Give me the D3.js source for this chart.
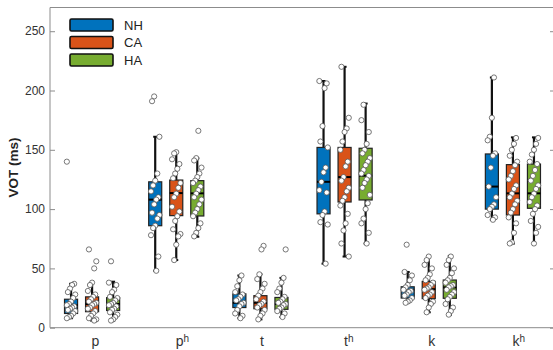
<!DOCTYPE html>
<html>
<head>
<meta charset="utf-8">
<script src="https://cdn.jsdelivr.net/npm/d3@7"></script>
<style>
  html, body { margin: 0; padding: 0; background: #fff; }
  svg { display: block; font-family: "Liberation Sans", Arial, Helvetica, sans-serif; }
</style>
</head>
<body>
<svg id="chart" width="553" height="350"></svg>
<script>
// ---- data ----
const categories = ["p", "pʰ", "t", "tʰ", "k", "kʰ"];
const seriesNames = ["NH", "CA", "HA"];
const seriesColors = ["#0072BD", "#D95319", "#77AC30"];
const yTicks = [0, 50, 100, 150, 200, 250];

// box statistics per series, one value per category
const nhQ1  = [12, 86, 17, 96, 25, 100];
const nhMed = [19, 108, 21, 123, 32, 119];
const nhQ3  = [24, 123, 28.5, 152, 34.5, 146.5];
const nhLo  = [8, 48, 8, 54, 21, 91];
const nhHi  = [37, 161, 44, 208, 47, 211];

const caQ1  = [13.5, 94.5, 16, 106, 24.5, 95];
const caMed = [20, 113.5, 21, 127, 32.5, 113.3];
const caQ3  = [26, 124.5, 27, 152, 39, 137.5];
const caLo  = [6, 57, 7, 60, 13, 71];
const caHi  = [38.5, 148.5, 45, 220, 60.5, 160.5];

const haQ1  = [14.5, 94.2, 15.5, 107.7, 24.8, 100.7];
const haMed = [20, 113.3, 20, 128.2, 34, 113.3];
const haQ3  = [25.3, 124, 25.5, 151.3, 40.2, 138];
const haLo  = [6, 76.7, 9, 71, 10.7, 71];
const haHi  = [38.8, 142.8, 42, 189, 60.5, 160.5];

// individual observations per series, per category
const nhPoints = [
  [140, 37, 36, 33, 30, 28, 25, 22, 20, 19, 18, 17, 16, 15, 14, 12, 10, 9, 8],
  [195, 191, 161, 130, 124, 120, 115, 110, 108, 104, 97, 95, 92, 86, 84, 78, 60, 48],
  [44, 40, 35, 30, 28, 26, 24, 23, 21, 20, 18, 15, 12, 10, 8],
  [208, 206, 202, 170, 157, 152, 135, 131, 123, 116, 114, 98, 95, 89, 87, 54],
  [70, 47, 44, 40, 36, 34, 32, 31, 30, 28, 27, 25, 23, 22, 21],
  [211, 177, 161, 158, 147, 145, 135, 119, 110, 104, 102, 100, 95, 93, 91]
];
const caPoints = [
  [66, 56, 50, 38, 36, 31, 28, 26, 24, 22, 21, 20, 19, 17, 16, 14, 12, 10, 8, 7, 6],
  [148, 147, 142, 138, 134, 130, 126, 122, 118, 113, 110, 102, 98, 94, 90, 83, 79, 77, 70, 57],
  [69, 66, 45, 41, 37, 33, 30, 27, 24, 22, 20, 19, 17, 15, 12, 10, 7],
  [220, 177, 168, 165, 157, 150, 140, 136, 127, 124, 118, 115, 110, 107, 103, 96, 88, 82, 71, 60],
  [60, 57, 53, 50, 45, 42, 40, 38, 36, 34, 33, 32, 30, 28, 27, 25, 22, 20, 17, 13],
  [160, 155, 150, 145, 140, 137, 132, 128, 125, 120, 117, 113, 110, 107, 104, 100, 97, 93, 88, 80, 72, 71]
];
const haPoints = [
  [56, 38, 36, 32, 30, 26, 25, 23, 21, 20, 19, 18, 16, 15, 13, 11, 9, 7, 6],
  [166, 143, 141, 135, 130, 127, 124, 122, 119, 116, 113, 110, 108, 104, 100, 97, 94, 88, 84, 80, 77],
  [66, 42, 38, 33, 30, 26, 24, 22, 21, 20, 19, 17, 16, 14, 12, 9],
  [188, 175, 165, 155, 150, 147, 143, 140, 137, 133, 130, 128, 125, 122, 118, 112, 105, 100, 92, 88, 80, 71],
  [60, 57, 53, 50, 46, 42, 40, 38, 36, 35, 34, 32, 30, 28, 26, 24, 20, 17, 14, 11],
  [160, 155, 150, 146, 140, 138, 133, 128, 124, 120, 117, 113, 110, 106, 103, 100, 96, 90, 85, 80, 71]
];

(function () {
// ---- build series table ----
const series = [
  { name: seriesNames[0], color: seriesColors[0], q1: nhQ1, med: nhMed, q3: nhQ3, lo: nhLo, hi: nhHi, pts: nhPoints },
  { name: seriesNames[1], color: seriesColors[1], q1: caQ1, med: caMed, q3: caQ3, lo: caLo, hi: caHi, pts: caPoints },
  { name: seriesNames[2], color: seriesColors[2], q1: haQ1, med: haMed, q3: haQ3, lo: haLo, hi: haHi, pts: haPoints }
];

// ---- layout ----
const svg = d3.select("#chart");
const pL = 50, pR = 555, pT = 7.5, pB = 327.7;

const x = d3.scaleLinear().domain([0.5, categories.length + 0.5]).range([pL, pR]);
const y = d3.scaleLinear().domain([0, 270]).range([pB, pT]);

const offsetUnits = [-0.25, 0, 0.25];
const boxW = x(0.155) - x(0);
const axisColor = "#8c8c8c";
const textColor = "#333333";

// frame lines
const frame = svg.append("g").attr("stroke", axisColor).attr("stroke-width", 1).attr("fill", "none");
frame.append("line").attr("x1", pL).attr("x2", pL).attr("y1", pT).attr("y2", pB);
frame.append("line").attr("x1", pL).attr("x2", pR).attr("y1", pB).attr("y2", pB);
frame.append("line").attr("x1", pL).attr("x2", pR).attr("y1", pT).attr("y2", pT);
frame.append("line").attr("x1", pR).attr("x2", pR).attr("y1", pT).attr("y2", pB);

// y axis (inward ticks) via d3 axis
const yAxis = svg.append("g")
  .attr("transform", `translate(${pL},0)`)
  .call(d3.axisRight(y).tickValues(yTicks).tickSize(5).tickFormat(""));
yAxis.select(".domain").remove();
yAxis.selectAll(".tick line").attr("stroke", axisColor);

const yAxisR = svg.append("g")
  .attr("transform", `translate(${pR},0)`)
  .call(d3.axisLeft(y).tickValues(yTicks).tickSize(5).tickFormat(""));
yAxisR.select(".domain").remove();
yAxisR.selectAll(".tick line").attr("stroke", axisColor);

// y tick labels
svg.append("g").selectAll("text").data(yTicks).join("text")
  .attr("x", pL - 5)
  .attr("y", d => y(d))
  .attr("dy", "0.35em")
  .attr("text-anchor", "end")
  .attr("font-size", 12)
  .attr("fill", textColor)
  .text(d => d);

// y label
svg.append("text")
  .attr("transform", `translate(18,${(pT + pB) / 2}) rotate(-90)`)
  .attr("text-anchor", "middle")
  .attr("font-size", 13.5)
  .attr("font-weight", "bold")
  .attr("fill", "#222")
  .text("VOT (ms)");

// x category labels (left-anchored at category centre)
const xl = svg.append("g").selectAll("text").data(categories).join("text")
  .attr("x", (d, i) => x(i + 1) - 0.5)
  .attr("y", 345.5)
  .attr("text-anchor", "start")
  .attr("font-size", 14)
  .attr("fill", textColor);
xl.each(function(d) {
  const t = d3.select(this);
  const aspirated = d.endsWith("ʰ");
  t.append("tspan").text(aspirated ? d.slice(0, -1) : d);
  if (aspirated) {
    t.append("tspan").attr("font-size", 10).attr("dy", -4).text("h");
  }
});

// ---- boxes ----
const plot = svg.append("g");
series.forEach((s, si) => {
  const g = plot.append("g");
  categories.forEach((c, ci) => {
    const cx = x(ci + 1 + offsetUnits[si]);
    g.append("line").attr("x1", cx).attr("x2", cx)
      .attr("y1", y(s.hi[ci])).attr("y2", y(s.lo[ci]))
      .attr("stroke", "#111").attr("stroke-width", 2.2);
    [s.hi[ci], s.lo[ci]].forEach(v => {
      g.append("line").attr("x1", cx - 2).attr("x2", cx + 2)
        .attr("y1", y(v)).attr("y2", y(v))
        .attr("stroke", "#111").attr("stroke-width", 2);
    });
    g.append("rect")
      .attr("x", cx - boxW / 2)
      .attr("y", y(s.q3[ci]))
      .attr("width", boxW)
      .attr("height", y(s.q1[ci]) - y(s.q3[ci]))
      .attr("fill", s.color)
      .attr("stroke", "#222")
      .attr("stroke-width", 1.2);
    g.append("line").attr("x1", cx - boxW / 2).attr("x2", cx + boxW / 2)
      .attr("y1", y(s.med[ci])).attr("y2", y(s.med[ci]))
      .attr("stroke", "#000").attr("stroke-width", 2);
  });
});

// ---- points ----
series.forEach((s, si) => {
  categories.forEach((c, ci) => {
    const cx = x(ci + 1 + offsetUnits[si]);
    plot.append("g").selectAll("circle").data(s.pts[ci]).join("circle")
      .attr("cx", (d, i) => cx + (((i * 7 + ci * 3 + si) % 9) - 4) * 1.05)
      .attr("cy", d => y(d))
      .attr("r", 2.6)
      .attr("fill", "#fff")
      .attr("stroke", "#555")
      .attr("stroke-width", 0.8);
  });
});

// ---- legend ----
const legend = svg.append("g");
series.forEach((s, si) => {
  const ly = 19 + si * 17.5;
  legend.append("rect")
    .attr("x", 70).attr("y", ly).attr("width", 43).attr("height", 12)
    .attr("rx", 1.5)
    .attr("fill", s.color).attr("stroke", "#111").attr("stroke-width", 1.6);
  legend.append("text")
    .attr("x", 124).attr("y", ly + 6).attr("dy", "0.36em")
    .attr("font-size", 13).attr("fill", "#222")
    .text(s.name);
});
})();
</script>
</body>
</html>
